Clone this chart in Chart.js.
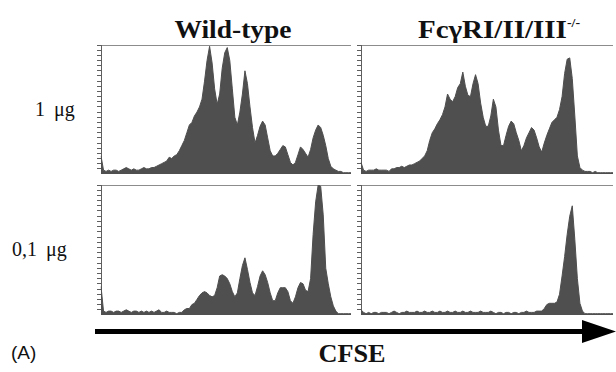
<!DOCTYPE html>
<html lang="en">
<head>
<meta charset="UTF-8">
<title>CFSE dilution - Wild-type vs FcγRI/II/III-/-</title>
<script src="https://cdn.jsdelivr.net/npm/chart.js"></script>
<style>
  body {
    margin: 0;
    width: 616px;
    height: 372px;
    position: relative;
    overflow: hidden;
    background: #fff;
    color: #111;
    font-family: "Liberation Serif", "DejaVu Serif", serif;
  }
  canvas { position: absolute; }
  .txt { position: absolute; white-space: nowrap; line-height: 1; }
  .head { font-weight: bold; font-size: 25px; }
  .dose { font-size: 20px; word-spacing: 4px; }
  sup { font-size: 12px; vertical-align: 11px; }
</style>
</head>
<body>

<div class="txt head" style="left:233px; top:17px; transform:translateX(-50%) scaleX(1.1);">Wild-type</div>
<div class="txt head" style="left:499px; top:17px; transform:translateX(-50%) scaleX(1.16);">FcγRI/II/III<sup>-/-</sup></div>
<div class="txt dose" style="left:35px; top:99px;">1 μg</div>
<div class="txt dose" style="left:12px; top:239px;">0,1 μg</div>
<div class="txt" style="left:11px; top:343px; font-family:'Liberation Sans', sans-serif; font-size:19px;">(A)</div>
<div class="txt" style="left:352px; top:341px; font-weight:bold; font-size:25px; transform:translateX(-50%) scaleX(1.05);">CFSE</div>

<svg width="616" height="372" style="position:absolute;left:0;top:0;">
  <line x1="95" y1="331.5" x2="590" y2="331.5" stroke="#000" stroke-width="5"/>
  <polygon points="582,320 616,331.5 582,343" fill="#000"/>
</svg>

<canvas id="wt1" width="254" height="129" style="left:97px; top:45px;"></canvas>
<canvas id="ko1" width="256" height="129" style="left:357px; top:45px;"></canvas>
<canvas id="wt01" width="254" height="130" style="left:97px; top:185px;"></canvas>
<canvas id="ko01" width="256" height="130" style="left:357px; top:185px;"></canvas>

<script>
// cell counts per CFSE channel bin (% of panel height)
const wildType1ug = [14, 3, 2, 3, 2, 3, 3, 2, 3, 4,
  5, 4, 3, 4, 3, 3, 4, 5, 4, 4,
  5, 5, 6, 7, 8, 9, 10, 13, 12, 14,
  15, 18, 22, 26, 32, 38, 40, 45, 48, 52,
  58, 72, 88, 99, 86, 66, 54, 62, 82, 94,
  98, 88, 66, 44, 38, 48, 62, 80, 70, 52,
  36, 24, 30, 37, 41, 38, 28, 18, 14, 14,
  16, 19, 22, 21, 15, 9, 7, 9, 15, 21,
  19, 16, 13, 19, 28, 34, 38, 36, 30, 22,
  12, 6, 4, 3, 2, 2, 1, 1, 1, 1];

const knockout1ug = [9, 3, 2, 3, 3, 3, 4, 3, 3, 3,
  3, 2, 4, 4, 5, 5, 6, 5, 6, 7,
  7, 8, 9, 10, 12, 14, 18, 26, 32, 35,
  39, 42, 46, 52, 62, 58, 56, 60, 67, 70,
  79, 68, 61, 60, 70, 77, 70, 55, 44, 37,
  37, 45, 58, 52, 34, 22, 22, 30, 37, 41,
  39, 32, 26, 18, 22, 28, 32, 36, 34, 28,
  21, 17, 24, 30, 35, 40, 42, 44, 50, 60,
  78, 89, 90, 74, 45, 14, 5, 3, 2, 2,
  2, 1, 2, 1, 1, 1, 1, 1, 1, 1];

const wildType01ug = [22, 3, 2, 3, 3, 2, 3, 3, 2, 3,
  4, 3, 2, 3, 3, 2, 3, 2, 3, 2,
  3, 2, 3, 4, 2, 2, 3, 2, 2, 2,
  1, 2, 2, 4, 5, 5, 8, 9, 12, 15,
  17, 18, 17, 15, 14, 15, 21, 30, 31, 30,
  28, 24, 18, 14, 17, 28, 38, 44, 35, 25,
  17, 15, 22, 30, 34, 31, 25, 17, 11, 11,
  17, 21, 21, 21, 18, 11, 9, 14, 21, 25,
  24, 19, 18, 28, 62, 87, 100, 99, 77, 36,
  24, 14, 7, 3, 1, 1, 1, 1, 1, 1];

const knockout01ug = [4, 2, 1, 2, 1, 2, 2, 1, 2, 2,
  2, 1, 2, 3, 2, 1, 2, 2, 3, 2,
  2, 2, 3, 2, 2, 3, 2, 2, 3, 2,
  2, 3, 2, 2, 3, 2, 2, 3, 2, 2,
  3, 2, 2, 3, 2, 2, 2, 3, 2, 2,
  2, 3, 2, 1, 2, 2, 1, 2, 2, 1,
  2, 2, 1, 2, 2, 3, 2, 2, 2, 3,
  3, 3, 5, 8, 9, 9, 9, 10, 16, 30,
  45, 62, 76, 84, 58, 28, 9, 3, 1, 1,
  1, 1, 1, 1, 1, 1, 1, 1, 1, 1];

const channels = wildType1ug.map((v, i) => i + 1);

const frameColor = '#8c8c8c';
const fillColor = '#4f4f4f';

function makePanel(id, values) {
  const ctx = document.getElementById(id).getContext('2d');
  return new Chart(ctx, {
    type: 'line',
    data: {
      labels: channels,
      datasets: [{
        data: values,
        fill: 'origin',
        backgroundColor: fillColor,
        borderColor: fillColor,
        borderWidth: 1,
        pointRadius: 0,
        tension: 0
      }]
    },
    options: {
      responsive: false,
      animation: false,
      events: [],
      layout: { padding: 0 },
      plugins: { legend: { display: false }, tooltip: { enabled: false } },
      scales: {
        x: {
          grid: { display: false, drawTicks: false },
          ticks: { display: false },
          border: { color: frameColor }
        },
        xTop: {
          type: 'category',
          position: 'top',
          grid: { display: false, drawTicks: false },
          ticks: { display: false },
          border: { color: frameColor }
        },
        y: {
          min: 0,
          max: 100,
          ticks: { display: false, stepSize: 4 },
          grid: { drawOnChartArea: false, tickLength: 4, color: '#5e5e5e' },
          border: { color: '#5e5e5e' }
        },
        yRight: {
          position: 'right',
          min: 0,
          max: 100,
          grid: { display: false, drawTicks: false },
          ticks: { display: false },
          border: { color: frameColor }
        }
      }
    }
  });
}

makePanel('wt1', wildType1ug);
makePanel('ko1', knockout1ug);
makePanel('wt01', wildType01ug);
makePanel('ko01', knockout01ug);
</script>
</body>
</html>
